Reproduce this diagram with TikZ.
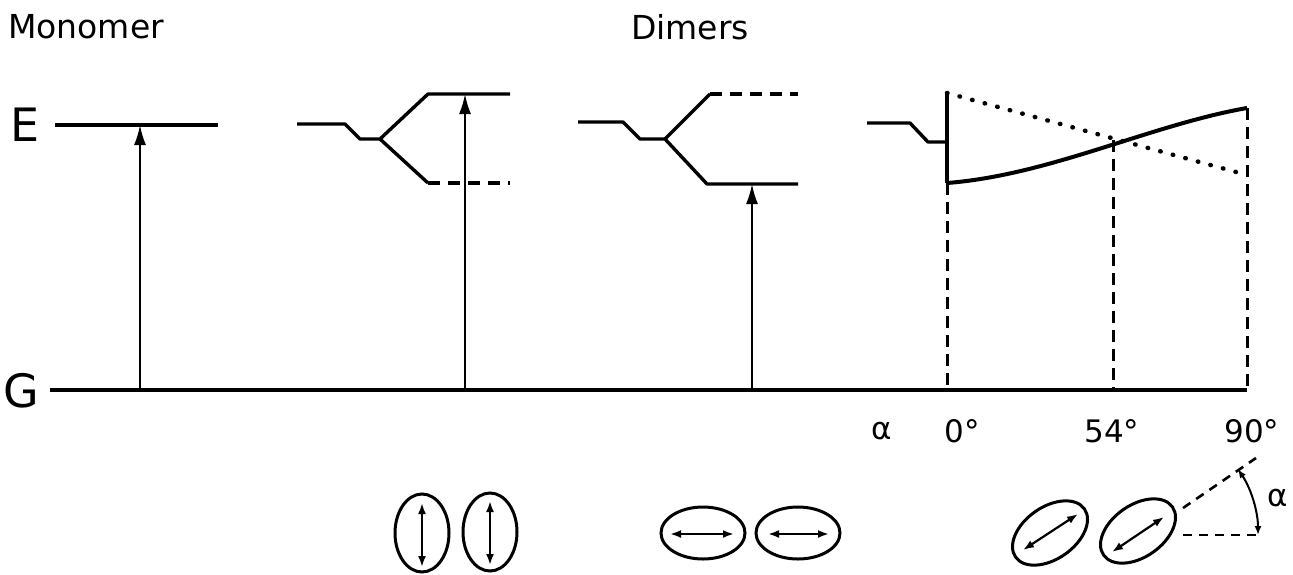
\documentclass[tikz,border=0pt]{standalone}
\usepackage{fontspec}
\setmainfont{DejaVu Sans}
\usetikzlibrary{arrows.meta,shapes.geometric}
\begin{document}
\begin{tikzpicture}[x=1pt,y=-1pt,
  lvl/.style={line width=3.4pt,line join=round},
  lvldash/.style={line width=3.4pt,dash pattern=on 12pt off 8pt},
  exc/.style={line width=2pt,-{Latex[length=20pt,width=12pt]}},
  vdash/.style={line width=3pt,dash pattern=on 12pt off 7pt},
  dotline/.style={line width=4.5pt,line cap=round,dash pattern=on 0.5pt off 12.5pt},
  mol/.style={ellipse,draw,line width=3pt,inner sep=0pt},
  dip/.style={line width=2.2pt,{Latex[length=11pt,width=8pt]}-{Latex[length=11pt,width=8pt]}},
  lab/.style={font=\fontsize{33}{36}\selectfont,inner sep=0pt},
  biglab/.style={font=\fontsize{46}{50}\selectfont,inner sep=0pt},
  anglab/.style={font=\fontsize{31}{34}\selectfont,inner sep=0pt}]
\useasboundingbox (0,0) rectangle (1293,574);

% titles
\node[lab] (tmono) at (86,27) {Monomer};
\node[lab] (tdim) at (690,27) {Dimers};
\node[biglab] (tE) at (25,125) {E};
\node[biglab] (tG) at (21,391) {G};

% ground line
\coordinate (g1) at (50,390);
\coordinate (g2) at (1247,390);
\draw[line width=4pt] (g1) -- (g2);

% monomer
\coordinate (m1) at (55,125);
\coordinate (m2) at (218,125);
\draw[lvl] (m1) -- (m2);
\coordinate (am0) at (140,390);
\coordinate (am1) at (140,125);
\draw[exc] (am0) -- (am1);

% dimer 1 (parallel, vertical)
\coordinate (d1a) at (297,124);
\coordinate (d1b) at (345,124);
\coordinate (d1c) at (360,139);
\coordinate (d1s) at (380,139);
\coordinate (d1u) at (428,94);
\coordinate (d1ue) at (510,94);
\coordinate (d1l) at (428,183);
\coordinate (d1le) at (510,183);
\draw[lvl] (d1a) -- (d1b) -- (d1c) -- (d1s) -- (d1u) -- (d1ue);
\draw[lvl] (d1s) -- (d1l);
\draw[lvldash] (d1l) -- (d1le);
\coordinate (a1b) at (465,390);
\coordinate (a1t) at (465,94);
\draw[exc] (a1b) -- (a1t);

% dimer 2 (head-to-tail)
\coordinate (d2a) at (578,122);
\coordinate (d2b) at (623,122);
\coordinate (d2c) at (640,139);
\coordinate (d2s) at (665,139);
\coordinate (d2u) at (710,94);
\coordinate (d2ue) at (798,94);
\coordinate (d2l) at (707,184);
\coordinate (d2le) at (798,184);
\draw[lvl] (d2a) -- (d2b) -- (d2c) -- (d2s) -- (d2l) -- (d2le);
\draw[lvl] (d2s) -- (d2u);
\draw[lvldash] (d2u) -- (d2ue);
\coordinate (a2b) at (752,390);
\coordinate (a2t) at (752,184);
\draw[exc] (a2b) -- (a2t);

% dimer 3 (oblique)
\coordinate (d3a) at (867,123);
\coordinate (d3b) at (910,123);
\coordinate (d3c) at (928,142);
\coordinate (d3s) at (947,142);
\coordinate (d3top) at (947,93);
\coordinate (d3bot) at (947,183);
\coordinate (d3x) at (1113,140);
\coordinate (d3r1) at (1247,108);
\coordinate (d3r2) at (1247,175);
\draw[lvl] (d3a) -- (d3b) -- (d3c) -- (d3s);
\draw[lvl] (d3top) -- (d3bot);
\draw[line width=4pt] (d3bot) .. controls (1050,175) and (1150,125) .. (d3r1);
\draw[dotline] (d3top) -- (d3r2);
\coordinate (v1) at (947,390);
\coordinate (v2) at (1113,390);
\coordinate (v3) at (1247,390);
\draw[vdash] (d3bot) -- (v1);
\draw[vdash] (d3x) -- (v2);
\draw[vdash] (d3r1) -- (v3);

% angle labels
\node[anglab] (lal) at (882,431) {α};
\node[anglab] (l0) at (962,431) {0°};
\node[anglab] (l54) at (1112,431) {54°};
\node[anglab] (l90) at (1252,431) {90°};

% molecules: parallel
\node[mol,minimum width=54pt,minimum height=78pt] (e1) at (422,533) {};
\node[mol,minimum width=54pt,minimum height=78pt] (e2) at (490,532) {};
\coordinate (e1t) at (422,503); \coordinate (e1b) at (422,567);
\coordinate (e2t) at (490,501); \coordinate (e2b) at (490,565);
\draw[dip] (e1b) -- (e1t);
\draw[dip] (e2b) -- (e2t);

% molecules: head-to-tail
\node[mol,minimum width=84pt,minimum height=52pt] (e3) at (703,533) {};
\node[mol,minimum width=84pt,minimum height=52pt] (e4) at (798,533) {};
\coordinate (e3l) at (670,534); \coordinate (e3r) at (734,534);
\coordinate (e4l) at (768,534); \coordinate (e4r) at (829,534);
\draw[dip] (e3l) -- (e3r);
\draw[dip] (e4l) -- (e4r);

% molecules: oblique
\node[mol,minimum width=84pt,minimum height=52pt,rotate=35] (e5) at (1050,533) {};
\node[mol,minimum width=84pt,minimum height=52pt,rotate=35] (e6) at (1138,531) {};
\coordinate (e5l) at (1023,550); \coordinate (e5r) at (1078,514);
\coordinate (e6l) at (1112,552); \coordinate (e6r) at (1164,517);
\draw[dip] (e5l) -- (e5r);
\draw[dip] (e6l) -- (e6r);

% angle definition
\coordinate (an0) at (1183,508);
\coordinate (an1) at (1256,458);
\coordinate (ah0) at (1183,535);
\coordinate (ah1) at (1258,535);
\draw[line width=2.6pt,dash pattern=on 9pt off 7pt] (an0) -- (an1);
\draw[line width=2.6pt,dash pattern=on 9pt off 7pt] (ah0) -- (ah1);
\draw[line width=2pt,{Latex[length=9pt,width=7pt]}-{Latex[length=9pt,width=7pt]}] (ah1) arc[start angle=0,end angle=-34,radius=118];
\node[anglab] (lal2) at (1278,498) {α};
\end{tikzpicture}
\end{document}
